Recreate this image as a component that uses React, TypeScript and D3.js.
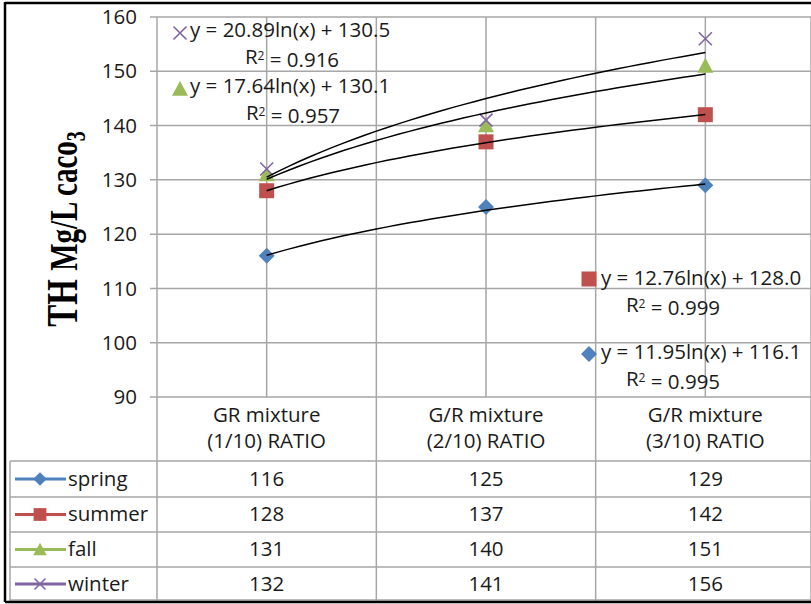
import React from "react";
import * as d3 from "d3";

const categories = ["GR mixture|(1/10) RATIO", "G/R mixture|(2/10) RATIO", "G/R mixture|(3/10) RATIO"];
const seriesNames = ["spring", "summer", "fall", "winter"];
const spring = [116, 125, 129];
const summer = [128, 137, 142];
const fall = [131, 140, 151];
const winter = [132, 141, 156];
const seriesColors = ["#4F81BD", "#C0504D", "#9BBB59", "#8064A2"];
const symbols = ["diamond", "square", "triangle", "x"];
const trendA = [11.95, 12.76, 17.64, 20.89];
const trendB = [116.1, 128.0, 130.1, 130.5];
const trendR2 = ["0.995", "0.999", "0.957", "0.916"];
const yTicks = [90, 100, 110, 120, 130, 140, 150, 160];

const W = 811, H = 604;
const FONT = "'Open Sans', Lato, sans-serif";
const FS = 20.5;

function Marker({ type, x, y, color, s = 1 }: any) {
  if (type === "diamond") {
    const r = 8 * s;
    return <path d={`M${x},${y - r}L${x + r},${y}L${x},${y + r}L${x - r},${y}Z`} fill={color} />;
  }
  if (type === "square") {
    const r = 7.5 * s;
    return <rect x={x - r} y={y - r} width={2 * r} height={2 * r} fill={color} />;
  }
  if (type === "triangle") {
    const r = 8 * s;
    return <path d={`M${x},${y - r}L${x + r},${y + r * 0.85}L${x - r},${y + r * 0.85}Z`} fill={color} />;
  }
  const r = 6.5 * s;
  return (
    <path d={`M${x - r},${y - r}L${x + r},${y + r}M${x - r},${y + r}L${x + r},${y - r}`} stroke={color} strokeWidth={1.6} fill="none" />
  );
}

export default function App() {
  const data = [spring, summer, fall, winter];
  const plotLeft = 157, plotRight = 815, plotTop = 17, plotBottom = 397;
  const x = d3.scaleBand<number>().domain([0, 1, 2]).range([plotLeft, plotRight]);
  const cx = (i: number) => (x(i) as number) + x.bandwidth() / 2;
  const y = d3.scaleLinear().domain([90, 160]).range([plotBottom, plotTop]);
  const xc = d3.scaleLinear().domain([1, 3]).range([cx(0), cx(2)]);
  const line = d3.line<[number, number]>().x((d) => xc(d[0])).y((d) => y(d[1])).curve(d3.curveLinear);
  const grid = "#A6A6A6";
  const rowTops = [461, 497, 532, 567];
  const tableBottom = 601;
  const tableLeft = 10;

  const labelPos = [
    { mx: 589, my: 354, tx: 601, ty: 352, rx: 673, ry: 379 },
    { mx: 589, my: 279, tx: 601, ty: 278, rx: 673, ry: 305 },
    { mx: 180, my: 89, tx: 190, ty: 86, rx: 293, ry: 113 },
    { mx: 180, my: 33, tx: 190, ty: 30, rx: 292, ry: 57 },
  ];

  return (
    <svg width={W} height={H} style={{ position: "absolute", left: 0, top: 0, background: "#fff" }}>
      <rect x={0} y={0} width={W} height={H} fill="#fff" />
      {yTicks.map((t) => (
        <g key={t}>
          <line x1={plotLeft - 7} x2={plotRight} y1={y(t)} y2={y(t)} stroke={grid} strokeWidth={1.5} />
          <text x={137} y={y(t)} dy="0.35em" textAnchor="end" fontFamily={FONT} fontSize={FS} fill="#1a1a1a">
            {t}
          </text>
        </g>
      ))}
      {[0, 1, 2].map((i) => (
        <line key={"c" + i} x1={cx(i)} x2={cx(i)} y1={plotTop} y2={plotBottom} stroke={grid} strokeWidth={1.5} />
      ))}
      {[0, 1, 2].map((i) => (
        <line key={"b" + i} x1={x(i) as number} x2={x(i) as number} y1={plotTop} y2={tableBottom} stroke={grid} strokeWidth={1.5} />
      ))}
      <line x1={plotRight - 4} x2={plotRight - 4} y1={plotTop} y2={tableBottom} stroke={grid} strokeWidth={1.5} />
      {rowTops.map((r) => (
        <line key={r} x1={tableLeft} x2={plotRight} y1={r} y2={r} stroke={grid} strokeWidth={1.5} />
      ))}
      <line x1={tableLeft} x2={tableLeft} y1={rowTops[0]} y2={tableBottom} stroke={grid} strokeWidth={1.5} />
      <line x1={tableLeft} x2={plotRight} y1={tableBottom - 1} y2={tableBottom - 1} stroke={grid} strokeWidth={1.5} />
      {categories.map((c, i) => {
        const [a, b] = c.split("|");
        return (
          <text key={c} x={cx(i)} textAnchor="middle" fontFamily={FONT} fontSize={FS} fill="#1a1a1a">
            <tspan x={cx(i)} y={422}>{a}</tspan>
            <tspan x={cx(i)} y={448}>{b}</tspan>
          </text>
        );
      })}
      {seriesNames.map((n, si) => {
        const top = rowTops[si];
        const bottom = si < 3 ? rowTops[si + 1] : tableBottom;
        const my = (top + bottom) / 2;
        return (
          <g key={n}>
            <line x1={15} x2={66} y1={my} y2={my} stroke={seriesColors[si]} strokeWidth={3} />
            <Marker type={symbols[si]} x={40} y={my} color={seriesColors[si]} s={0.85} />
            <text x={68} y={my} dy="0.33em" fontFamily={FONT} fontSize={FS} fill="#1a1a1a">
              {n}
            </text>
            {data[si].map((v, i) => (
              <text key={i} x={cx(i)} y={my} dy="0.33em" textAnchor="middle" fontFamily={FONT} fontSize={FS} fill="#1a1a1a">
                {v}
              </text>
            ))}
          </g>
        );
      })}
      {data.map((s, si) =>
        s.map((v, i) => <Marker key={si + "-" + i} type={symbols[si]} x={cx(i)} y={y(v)} color={seriesColors[si]} />)
      )}
      {trendA.map((a, si) => {
        const pts: [number, number][] = d3.range(1, 3.0001, 0.05).map((t) => [t, a * Math.log(t) + trendB[si]]);
        return <path key={"t" + si} d={line(pts) as string} fill="none" stroke="#000" strokeWidth={1.5} />;
      })}
      {labelPos.map((p, si) => (
        <g key={"l" + si}>
          <Marker type={symbols[si]} x={p.mx} y={p.my} color={seriesColors[si]} />
          <text x={p.tx} y={p.ty} dy="0.35em" fontFamily={FONT} fontSize={FS} fill="#1a1a1a">
            {`y = ${trendA[si].toFixed(2)}ln(x) + ${trendB[si].toFixed(1)}`}
          </text>
          <text x={p.rx} y={p.ry} dy="0.35em" textAnchor="middle" fontFamily={FONT} fontSize={FS} fill="#1a1a1a">
            R<tspan dy="-0.35em" fontSize={12}>2</tspan>
            <tspan dy="0.35em">{` = ${trendR2[si]}`}</tspan>
          </text>
        </g>
      ))}
      <g transform="translate(77,229) rotate(-90) scale(1,1.35)">
        <text textAnchor="middle" fontFamily="'Liberation Serif', 'DejaVu Serif', serif" fontWeight="bold" fill="#000">
          <tspan fontSize={33}>TH </tspan>
          <tspan fontSize={29}>Mg/L caco</tspan>
          <tspan fontSize={20} dy="6">3</tspan>
        </text>
      </g>
      <line x1={5} x2={W} y1={3} y2={3} stroke="#000" strokeWidth={2.5} />
      <line x1={5} x2={5} y1={2} y2={602} stroke="#000" strokeWidth={2.5} />
      <line x1={5} x2={W} y1={602} y2={602} stroke="#000" strokeWidth={2.5} />
    </svg>
  );
}
